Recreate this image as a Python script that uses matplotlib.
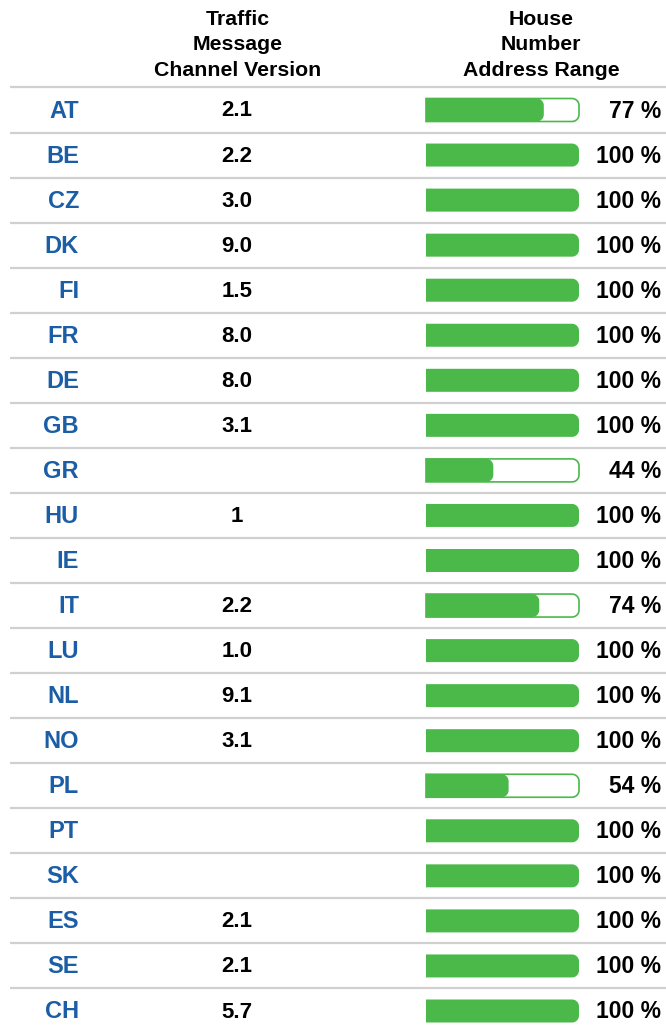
import matplotlib.pyplot as plt
from matplotlib.patches import Polygon
import numpy as np

countries = ["AT", "BE", "CZ", "DK", "FI", "FR", "DE", "GB", "GR", "HU", "IE",
             "IT", "LU", "NL", "NO", "PL", "PT", "SK", "ES", "SE", "CH"]
tmc_version = ["2.1", "2.2", "3.0", "9.0", "1.5", "8.0", "8.0", "3.1", "", "1", "",
               "2.2", "1.0", "9.1", "3.1", "", "", "", "2.1", "2.1", "5.7"]
hnr_coverage = [77, 100, 100, 100, 100, 100, 100, 100, 44, 100, 100,
                74, 100, 100, 100, 54, 100, 100, 100, 100, 100]

header_tmc = "Traffic\nMessage\nChannel Version"
header_hnr = "House\nNumber\nAddress Range"

W, H = 666, 1029
GREEN = "#4ab94a"
BLUE = "#1c5ea5"
LINE = "#d0d0d0"

plt.rcParams["font.family"] = ["Liberation Sans", "DejaVu Sans"]

fig = plt.figure(figsize=(W / 100, H / 100), dpi=100)
ax = fig.add_axes([0, 0, 1, 1])
ax.set_xlim(0, W)
ax.set_ylim(H, 0)
ax.axis("off")

row_top = 110
row_h = 45.05
bar_x0, bar_w, bar_h = 426, 153, 23
radius = 7


def bar_shape(x0, width, yc, h, r):
    # rectangle with square left end and rounded right end
    r = min(r, width / 2, h / 2)
    xr = x0 + width - r
    top_arc = [(xr + r * np.sin(t), yc - h / 2 + r - r * np.cos(t))
               for t in np.linspace(0, np.pi / 2, 12)]
    bot_arc = [(xr + r * np.cos(t), yc + h / 2 - r + r * np.sin(t))
               for t in np.linspace(0, np.pi / 2, 12)]
    pts = [(x0, yc - h / 2)] + top_arc + bot_arc + [(x0, yc + h / 2)]
    return pts


# header
ax.text(238, 45, header_tmc, ha="center", va="center", fontsize=15.3,
        fontweight="bold", linespacing=1.43)
ax.text(541, 45, header_hnr, ha="center", va="center", fontsize=15.3,
        fontweight="bold", linespacing=1.43)

for i, (c, v, p) in enumerate(zip(countries, tmc_version, hnr_coverage)):
    yc = row_top + i * row_h
    ax.plot([10, W], [yc - row_h / 2, yc - row_h / 2], color=LINE, lw=1.6,
            solid_capstyle="butt")
    ax.text(79, yc + 1, c, ha="right", va="center", fontsize=17,
            fontweight="bold", color=BLUE)
    ax.text(237, yc + 1, v, ha="center", va="center", fontsize=16,
            fontweight="bold", color="black")
    if p < 100:
        ax.add_patch(Polygon(bar_shape(bar_x0, bar_w, yc, bar_h, radius),
                             closed=True, facecolor="white", edgecolor=GREEN,
                             lw=1.2))
    ax.add_patch(Polygon(bar_shape(bar_x0, bar_w * p / 100, yc, bar_h, radius),
                         closed=True, facecolor=GREEN, edgecolor="none"))
    ax.text(661, yc + 1, f"{p} %", ha="right", va="center", fontsize=16.5,
            fontweight="bold", color="black")

fig.savefig("out.png", dpi=100)
